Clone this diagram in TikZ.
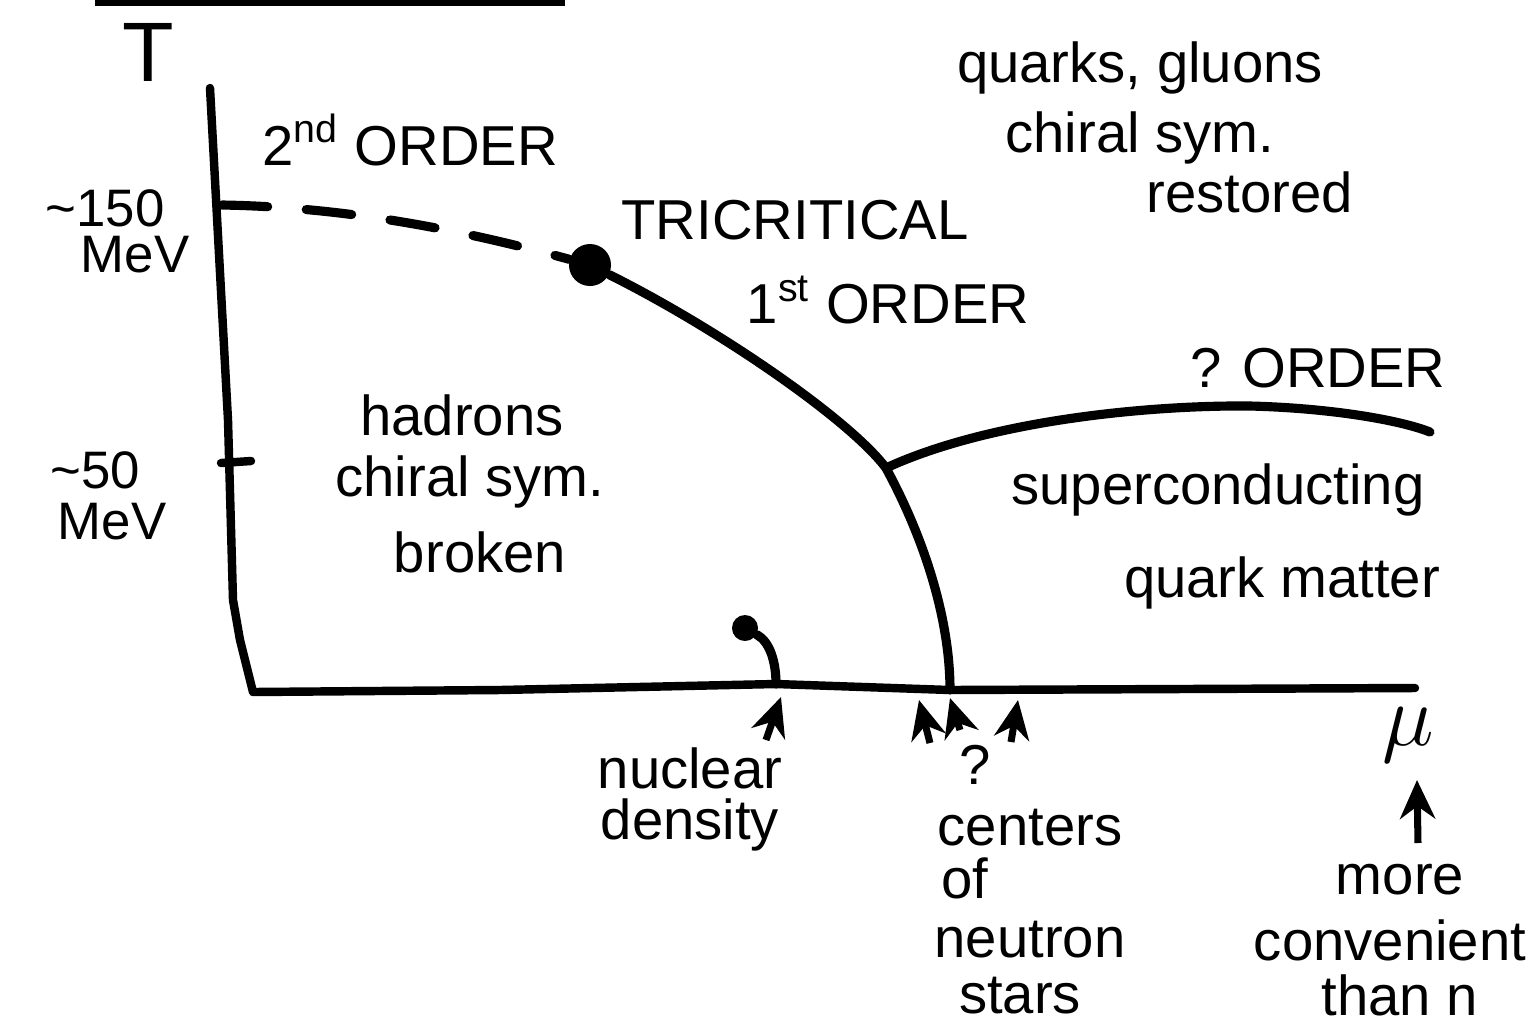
\documentclass[tikz,border=0pt]{standalone}
\usepackage{fontspec}
\setmainfont{Liberation Sans}
\usetikzlibrary{arrows.meta}
\begin{document}
\begin{tikzpicture}[x=0.01cm,y=-0.01cm,
  lab/.style={font=\fontsize{16}{18}\selectfont, inner sep=0pt, anchor=center},
  sm/.style={font=\fontsize{15}{17}\selectfont, inner sep=0pt, anchor=center},
  big/.style={font=\fontsize{24}{26}\selectfont, inner sep=0pt},
  ax/.style={line width=2.4pt, line join=round, line cap=round},
  pl/.style={line width=2.6pt, line cap=round},
  arr/.style={line width=2pt, -{Stealth[length=11pt,width=10pt]}},
  dotc/.style={circle, fill=black, inner sep=0pt}]
\useasboundingbox (0,0) rectangle (1532,1032);
% scan edge line at top
\draw[line width=3pt] (95,1) -- (565,1);
% axis label
\node[big] (T) at (148,52) {T};
\node[lab] (mu) at (1408,735) {\fontsize{28}{30}\selectfont$\mu$};
% axes
\coordinate (ytop) at (210,88);
\coordinate (t150) at (222,205);
\coordinate (t50) at (229,463);
\coordinate (origin) at (253,692);
\coordinate (muend) at (1415,688);
\coordinate (nd) at (776,684);
\coordinate (ns) at (950,690);
\draw[ax] (ytop) -- (228,420) -- (233,600) -- (240,640) -- (origin)
  -- (500,690) -- (nd) -- (ns) -- (muend);
\draw[ax] (t50) ++(-8,0) -- ++(30,-2);
% axis tick labels
\node[sm] (l150) at (105,208) {\textasciitilde150};
\node[sm] (m150) at (135,255) {MeV};
\node[sm] (l50) at (95,470) {\textasciitilde50};
\node[sm] (m50) at (112,522) {MeV};
% tricritical point
\node[dotc, minimum size=0.42cm] (tcp) at (590,265) {};
\coordinate (junc) at (886,468);
% second order (dashed)
\draw[pl, dash pattern=on 13pt off 11pt] (t150) .. controls (350,207) and (470,232) .. (tcp);
% first order
\draw[pl] (tcp) .. controls (720,330) and (850,420) .. (junc)
  .. controls (925,540) and (950,620) .. (ns);
% ? order
\draw[pl] (junc) .. controls (990,420) and (1150,405) .. (1250,406)
  .. controls (1330,408) and (1400,420) .. (1430,432);
% nuclear density point
\node[dotc, minimum size=0.26cm] (nuc) at (745,628) {};
\draw[pl] (nuc) .. controls (770,642) and (776,662) .. (nd);
% labels
\node[lab] (ord2) at (410,140) {2\textsuperscript{nd} ORDER};
\node[lab] (tri) at (795,220) {TRICRITICAL};
\node[lab] (ord1) at (888,300) {1\textsuperscript{st} ORDER};
\node[lab] (ordq) at (1318,368) {? ORDER};
\node[lab] (qg) at (1140,68) {quarks, gluons};
\node[lab] (cs1) at (1140,138) {chiral sym.};
\node[lab] (rest) at (1250,192) {restored};
\node[lab] (had) at (462,415) {hadrons};
\node[lab] (cs2) at (470,482) {chiral sym.};
\node[lab] (brok) at (480,552) {broken};
\node[lab] (sup) at (1218,490) {superconducting};
\node[lab] (qm) at (1282,583) {quark matter};
\node[lab] (nucl) at (690,768) {nuclear};
\node[lab] (dens) at (690,825) {density};
\node[lab] (qmark) at (975,765) {?};
\node[lab] (cent) at (1030,828) {centers};
\node[lab] (of) at (965,878) {of};
\node[lab] (neut) at (1030,940) {neutron};
\node[lab] (star) at (1020,996) {stars};
\node[lab] (more) at (1400,880) {more};
\node[lab] (conv) at (1390,940) {convenient};
\node[lab] (than) at (1400,995) {than n};
% arrows to the mu axis
\coordinate (a1t) at (766,740); \coordinate (a1h) at (781,697);
\coordinate (a2t) at (930,743); \coordinate (a2h) at (919,700);
\coordinate (a3t) at (960,730); \coordinate (a3h) at (950,698);
\coordinate (a4t) at (1011,742); \coordinate (a4h) at (1018,700);
\coordinate (a5t) at (1418,843); \coordinate (a5h) at (1417,780);
\draw[arr] (a1t) -- (a1h);
\draw[arr] (a2t) -- (a2h);
\draw[arr] (a3t) -- (a3h);
\draw[arr] (a4t) -- (a4h);
\draw[arr] (a5t) -- (a5h);
\end{tikzpicture}
\end{document}
